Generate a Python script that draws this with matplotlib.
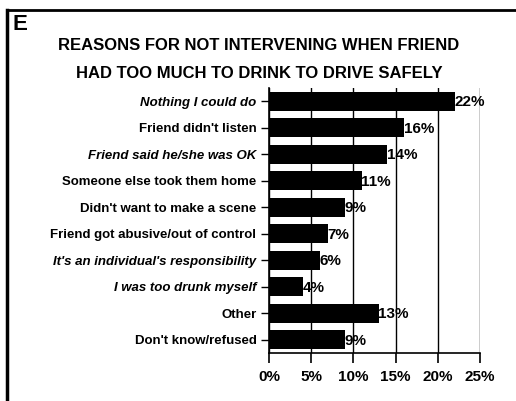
import matplotlib
matplotlib.use("Agg")
import matplotlib.pyplot as plt
from matplotlib.lines import Line2D

categories = [
    "Nothing I could do",
    "Friend didn't listen",
    "Friend said he/she was OK",
    "Someone else took them home",
    "Didn't want to make a scene",
    "Friend got abusive/out of control",
    "It's an individual's responsibility",
    "I was too drunk myself",
    "Other",
    "Don't know/refused",
]
values = [22, 16, 14, 11, 9, 7, 6, 4, 13, 9]
italic_labels = [True, False, True, False, False, False, True, True, False, False]
xticks = [0, 5, 10, 15, 20, 25]
xtick_labels = ["0%", "5%", "10%", "15%", "20%", "25%"]

plt.rcParams['font.family'] = ['Liberation Sans', 'DejaVu Sans']

fig = plt.figure(figsize=(5.16, 4.01), dpi=100)
ax = fig.add_axes([269/516, 1-353/401, (480-269)/516, (353-88)/401])

y = list(range(len(categories)))
ax.barh(y, values, height=0.7, color="black", zorder=3)
for yi, v in zip(y, values):
    ax.text(v - 0.05, yi + 0.03, f"{v}%", va="center", ha="left", fontsize=11,
            fontweight="bold", zorder=4)

ax.set_xlim(0, 25)
ax.set_ylim(len(categories) - 0.5, -0.5)
ax.set_yticks(y)
ax.set_yticklabels(categories, fontsize=9.5, fontweight="bold")
for lbl, it in zip(ax.get_yticklabels(), italic_labels):
    if it:
        lbl.set_fontstyle("italic")
ax.set_xticks(xticks)
ax.set_xticklabels(xtick_labels, fontsize=11, fontweight="bold")
ax.tick_params(axis="y", length=6, width=1, pad=3)
ax.tick_params(axis="x", length=7, width=1.2, pad=5)
ax.grid(axis="x", color="black", linewidth=1, zorder=0)
ax.spines["top"].set_visible(False)
ax.spines["right"].set_visible(False)
ax.spines["left"].set_linewidth(1.2)
ax.spines["bottom"].set_linewidth(1.2)

# figure frame lines (left and top)
fig.add_artist(Line2D([7/516, 7/516], [0, 1-10/401], transform=fig.transFigure,
                      color="black", linewidth=2.5))
fig.add_artist(Line2D([7/516, 1], [1-10/401, 1-10/401], transform=fig.transFigure,
                      color="black", linewidth=2))

fig.text(12/516, 1-25/401, "E", fontsize=16, fontweight="bold", va="center", ha="left")
fig.text(259/516, 1-46/401, "REASONS FOR NOT INTERVENING WHEN FRIEND",
         fontsize=12, fontweight="bold", ha="center", va="center")
fig.text(259/516, 1-73/401, "HAD TOO MUCH TO DRINK TO DRIVE SAFELY",
         fontsize=12, fontweight="bold", ha="center", va="center")

fig.savefig("out.png", dpi=100, facecolor="white")
